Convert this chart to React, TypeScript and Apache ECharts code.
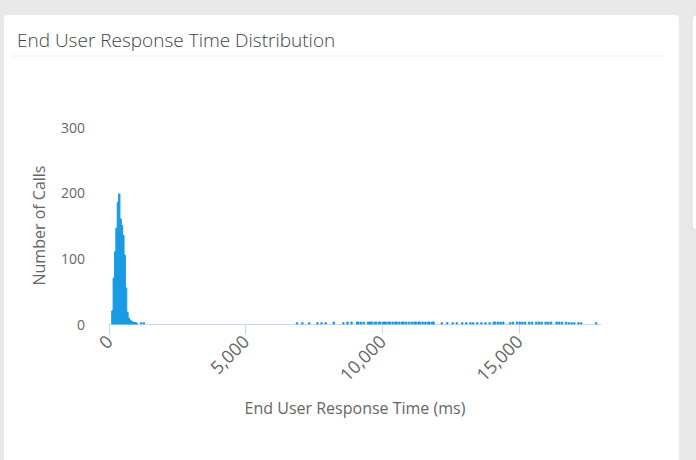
import React, { useEffect, useRef } from "react";
import * as echarts from "echarts";

const BIN_WIDTH = 50;
const peakBins = [100, 150, 200, 250, 300, 350, 400, 450, 500, 550, 600, 650, 700, 750, 800, 850, 900, 950, 1000, 1150, 1250];
const peakCounts = [20, 70, 110, 146, 185, 198, 160, 150, 135, 105, 55, 18, 9, 6, 4, 3, 2, 2, 1, 2, 2];
const tailBins = [6850, 7050, 7300, 7600, 7750, 7900, 8200, 8550, 8700, 8850, 9050, 9100, 9200, 9300, 9450, 9500, 9550, 9600, 9700, 9750, 9850, 9900, 10000, 10050, 10100, 10200, 10250, 10350, 10450, 10500, 10600, 10700, 10750, 10850, 10950, 11050, 11150, 11200, 11300, 11350, 11450, 11550, 11650, 11700, 11800, 11850, 12150, 12350, 12550, 12700, 12900, 13050, 13200, 13300, 13450, 13600, 13750, 13900, 14050, 14100, 14200, 14300, 14400, 14650, 14750, 14900, 15000, 15100, 15200, 15350, 15450, 15600, 15700, 15800, 15950, 16050, 16150, 16350, 16450, 16550, 16700, 16800, 16900, 17000, 17150, 17250, 17800];
const tailCounts = [2, 2, 2, 2, 2, 2, 3, 2, 3, 3, 3, 3, 3, 3, 3, 3, 3, 3, 3, 3, 3, 3, 3, 3, 3, 3, 3, 3, 3, 3, 3, 3, 3, 3, 3, 3, 3, 3, 3, 3, 3, 3, 3, 3, 3, 3, 2, 2, 2, 2, 2, 2, 2, 2, 2, 2, 2, 2, 3, 3, 3, 3, 3, 2, 3, 3, 3, 3, 3, 3, 3, 3, 3, 3, 3, 3, 3, 3, 3, 3, 3, 2, 2, 2, 2, 2, 2];
const xTicks = [0, 5000, 10000, 15000];
const X_MAX = 18000;
const Y_MAX = 300;
const Y_INTERVAL = 100;

const BAR = "#1a9be3";
const FONT = "'Open Sans', sans-serif";

export default function App() {
  const ref = useRef<HTMLDivElement>(null);
  useEffect(() => {
    document.body.style.margin = "0";
    const chart = echarts.init(ref.current!, undefined, { renderer: "svg" });
    const data = [
      ...peakBins.map((b, i) => [b, b + BIN_WIDTH, peakCounts[i]]),
      ...tailBins.map((b, i) => [b, b + BIN_WIDTH, tailCounts[i]]),
    ];
    chart.setOption({
      animation: false,
      backgroundColor: "#e9e9e9",
      textStyle: { fontFamily: FONT },
      graphic: [
        { type: "rect", z: -10, shape: { x: 4, y: 15, width: 675, height: 460, r: 4 }, style: { fill: "#fff" } },
        { type: "rect", z: -10, shape: { x: 692, y: 15, width: 20, height: 215, r: 4 }, style: { fill: "#fff", stroke: "#dcdcdc" } },
        { type: "line", z: -9, shape: { x1: 12, y1: 56, x2: 664, y2: 56 }, style: { stroke: "#ececec", lineWidth: 1 } },
      ],
      title: {
        text: "End User Response Time Distribution",
        left: 12,
        top: 25,
        textStyle: { fontFamily: FONT, fontSize: 19, fontWeight: 300, color: "#444" },
      },
      grid: { left: 109, right: 95, top: 127, bottom: 136 },
      xAxis: {
        type: "value",
        min: 0,
        max: X_MAX,
        interval: 5000,
        name: "End User Response Time (ms)",
        nameLocation: "middle",
        nameGap: 76,
        nameTextStyle: { fontFamily: FONT, fontSize: 16, color: "#666" },
        axisLine: { show: true, lineStyle: { color: "#ccd6eb", width: 1 } },
        axisTick: { show: true, length: 10, lineStyle: { color: "#ccd6eb" }, customValues: xTicks },
        axisLabel: {
          rotate: 45,
          margin: 14,
          fontFamily: FONT,
          fontSize: 18,
          color: "#666",
          customValues: xTicks,
          formatter: (v: number) => v.toLocaleString("en-US"),
        },
        splitLine: { show: false },
      },
      yAxis: {
        type: "value",
        min: 0,
        max: Y_MAX,
        interval: Y_INTERVAL,
        name: "Number of Calls",
        nameLocation: "middle",
        nameGap: 62,
        nameTextStyle: { fontFamily: FONT, fontSize: 16, color: "#666" },
        axisLine: { show: false },
        axisTick: { show: false },
        axisLabel: { margin: 24, fontFamily: FONT, fontSize: 14, color: "#666" },
        splitLine: { show: false },
      },
      series: [
        {
          type: "custom",
          data,
          encode: { x: [0, 1], y: 2 },
          renderItem: (params: any, api: any) => {
            const p0 = api.coord([api.value(0), api.value(2)]);
            const p1 = api.coord([api.value(1), 0]);
            return {
              type: "rect",
              shape: { x: p0[0], y: p0[1], width: p1[0] - p0[0], height: p1[1] - p0[1] },
              style: { fill: BAR, stroke: BAR, lineWidth: 1 },
            };
          },
        },
      ],
    });
    return () => chart.dispose();
  }, []);
  return <div ref={ref} style={{ width: 696, height: 460 }} />;
}
